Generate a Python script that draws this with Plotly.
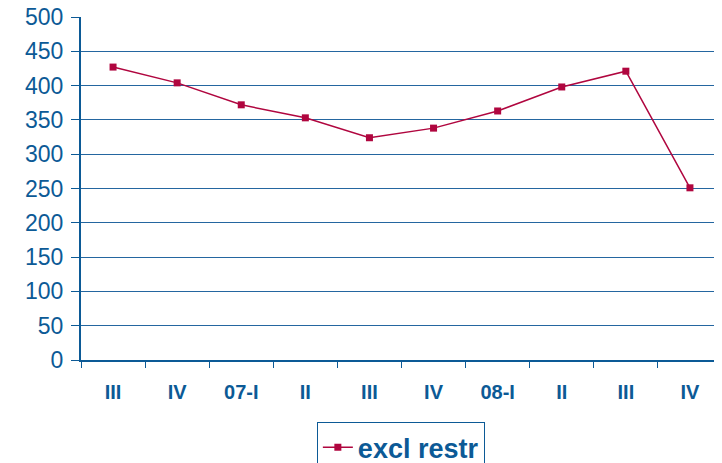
import plotly.graph_objects as go

categories = ["06-III", "06-IV", "07-I", "07-II", "07-III", "07-IV", "08-I", "08-II", "08-III", "08-IV"]
tick_labels = ["III", "IV", "07-I", "II", "III", "IV", "08-I", "II", "III", "IV"]
excl_restr = [427, 404, 372, 353, 324, 338, 363, 398, 421, 251]

blue = "#0c5a96"
line_col = "#b0063f"

fig = go.Figure()
fig.add_trace(go.Scatter(
    x=categories, y=excl_restr, name="<b>excl restr</b>", mode="lines+markers",
    line=dict(color=line_col, width=1.5),
    marker=dict(symbol="square", size=7, color=line_col),
))

fig.update_layout(
    width=714, height=455,
    margin=dict(l=73, r=0, t=9, b=103, autoexpand=False),
    paper_bgcolor="white", plot_bgcolor="white",
    font=dict(family="Liberation Sans, Arial", color=blue),
    showlegend=True,
    legend=dict(
        x=0.499, xanchor="center", y=-0.181, yanchor="top",
        bordercolor=blue, borderwidth=1,
        font=dict(size=27, color=blue, family="Liberation Sans, Arial"),
        itemwidth=30,
    ),
    xaxis=dict(
        type="category", categoryorder="array", categoryarray=categories,
        tickvals=categories, ticktext=["<b>%s</b>" % t for t in tick_labels],
        tickson="boundaries", ticks="outside", ticklen=6, tickcolor=blue,
        tickfont=dict(size=20, color=blue),
        ticklabelstandoff=13, ticklabeloverflow="allow",
        showline=True, linecolor=blue, linewidth=2,
        showgrid=False, range=[-0.5, 9.5], automargin=False,
    ),
    yaxis=dict(
        range=[0, 500], dtick=50, ticks="outside", ticklen=8, tickcolor=blue,
        tickfont=dict(size=23, color=blue),
        ticklabelstandoff=3, ticklabeloverflow="allow",
        showline=True, linecolor=blue, linewidth=2,
        showgrid=True, gridcolor="#2466a0", gridwidth=1,
        zeroline=False, automargin=False,
    ),
)

fig.write_html("out.html")
